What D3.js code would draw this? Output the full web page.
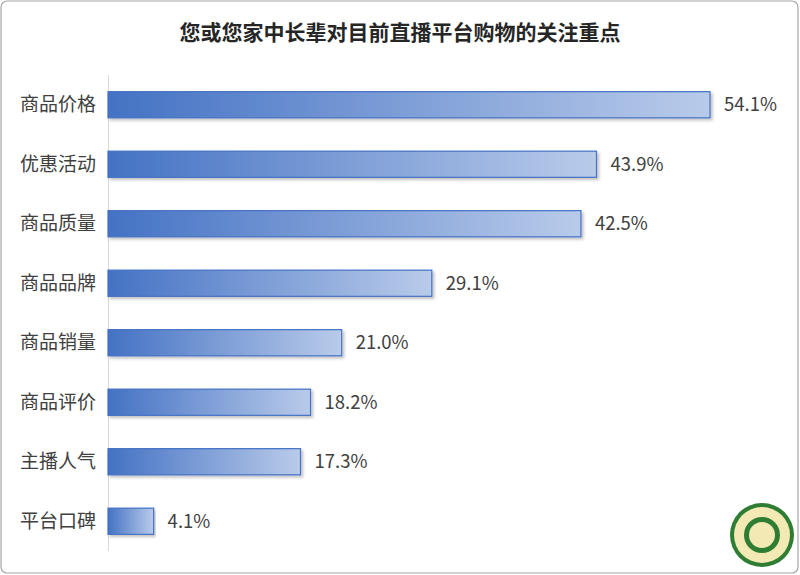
<!DOCTYPE html><html><head><meta charset="utf-8"><script src="https://cdn.jsdelivr.net/npm/d3@7"></script>
<style>body{margin:0;background:#fff}</style></head><body><svg id="c" width="800" height="575"></svg>
<script>
const categories=["商品价格","优惠活动","商品质量","商品品牌","商品销量","商品评价","主播人气","平台口碑"];
const values=[54.1,43.9,42.5,29.1,21.0,18.2,17.3,4.1];
const title="您或您家中长辈对目前直播平台购物的关注重点";
const svg=d3.select("#c");
const font="'Noto Sans CJK SC','Microsoft YaHei',sans-serif";
svg.append("rect").attr("x",1).attr("y",1).attr("width",797).attr("height",572).attr("rx",6).attr("fill","#fff").attr("stroke","#a6a6a6").attr("stroke-width",1.2);
const defs=svg.append("defs");
const g=defs.append("linearGradient").attr("id","gr").attr("x1","0").attr("x2","1");
g.append("stop").attr("offset","0").attr("stop-color","#4472c4");
g.append("stop").attr("offset","1").attr("stop-color","#b9cbea");
const f=defs.append("filter").attr("id","sh").attr("x","-5%").attr("y","-20%").attr("width","110%").attr("height","160%");
f.append("feDropShadow").attr("dx",2).attr("dy",2).attr("stdDeviation",1.5).attr("flood-color","#000").attr("flood-opacity",0.25);
svg.append("text").attr("x",400).attr("y",40).attr("text-anchor","middle").attr("font-family",font).attr("font-weight","bold").attr("font-size",21).attr("fill","#262626").text(title);
const x=d3.scaleLinear().domain([0,54.1]).range([108,710]);
const y=d3.scaleBand().domain(categories).range([75,551]).paddingInner(0.56).paddingOuter(0.28);
svg.append("line").attr("x1",108.5).attr("x2",108.5).attr("y1",75).attr("y2",551).attr("stroke","#d9d9d9");
categories.forEach((c,i)=>{
 const yy=y(c),h=y.bandwidth();
 svg.append("rect").attr("x",x(0)).attr("y",yy).attr("width",x(values[i])-x(0)).attr("height",h).attr("fill","url(#gr)").attr("stroke","#4472c4").attr("stroke-width",1.2).attr("filter","url(#sh)");
 svg.append("text").attr("x",x(values[i])+14).attr("y",yy+h/2).attr("dy","0.35em").attr("font-family",font).attr("font-size",18.5).attr("fill","#404040").text(values[i].toFixed(1)+"%");
 svg.append("text").attr("x",96).attr("y",yy+h/2).attr("dy","0.35em").attr("text-anchor","end").attr("font-family",font).attr("font-size",19).attr("fill","#404040").text(c);
});
const lg=svg.append("g").attr("transform","translate(762,535)");
lg.append("circle").attr("r",32).attr("fill","#2e7d32");
lg.append("circle").attr("r",28).attr("fill","#f3e9b5");
lg.append("circle").attr("r",18).attr("fill","#2e7d32");
lg.append("circle").attr("r",13).attr("fill","#f3e9b5");
</script></body></html>
